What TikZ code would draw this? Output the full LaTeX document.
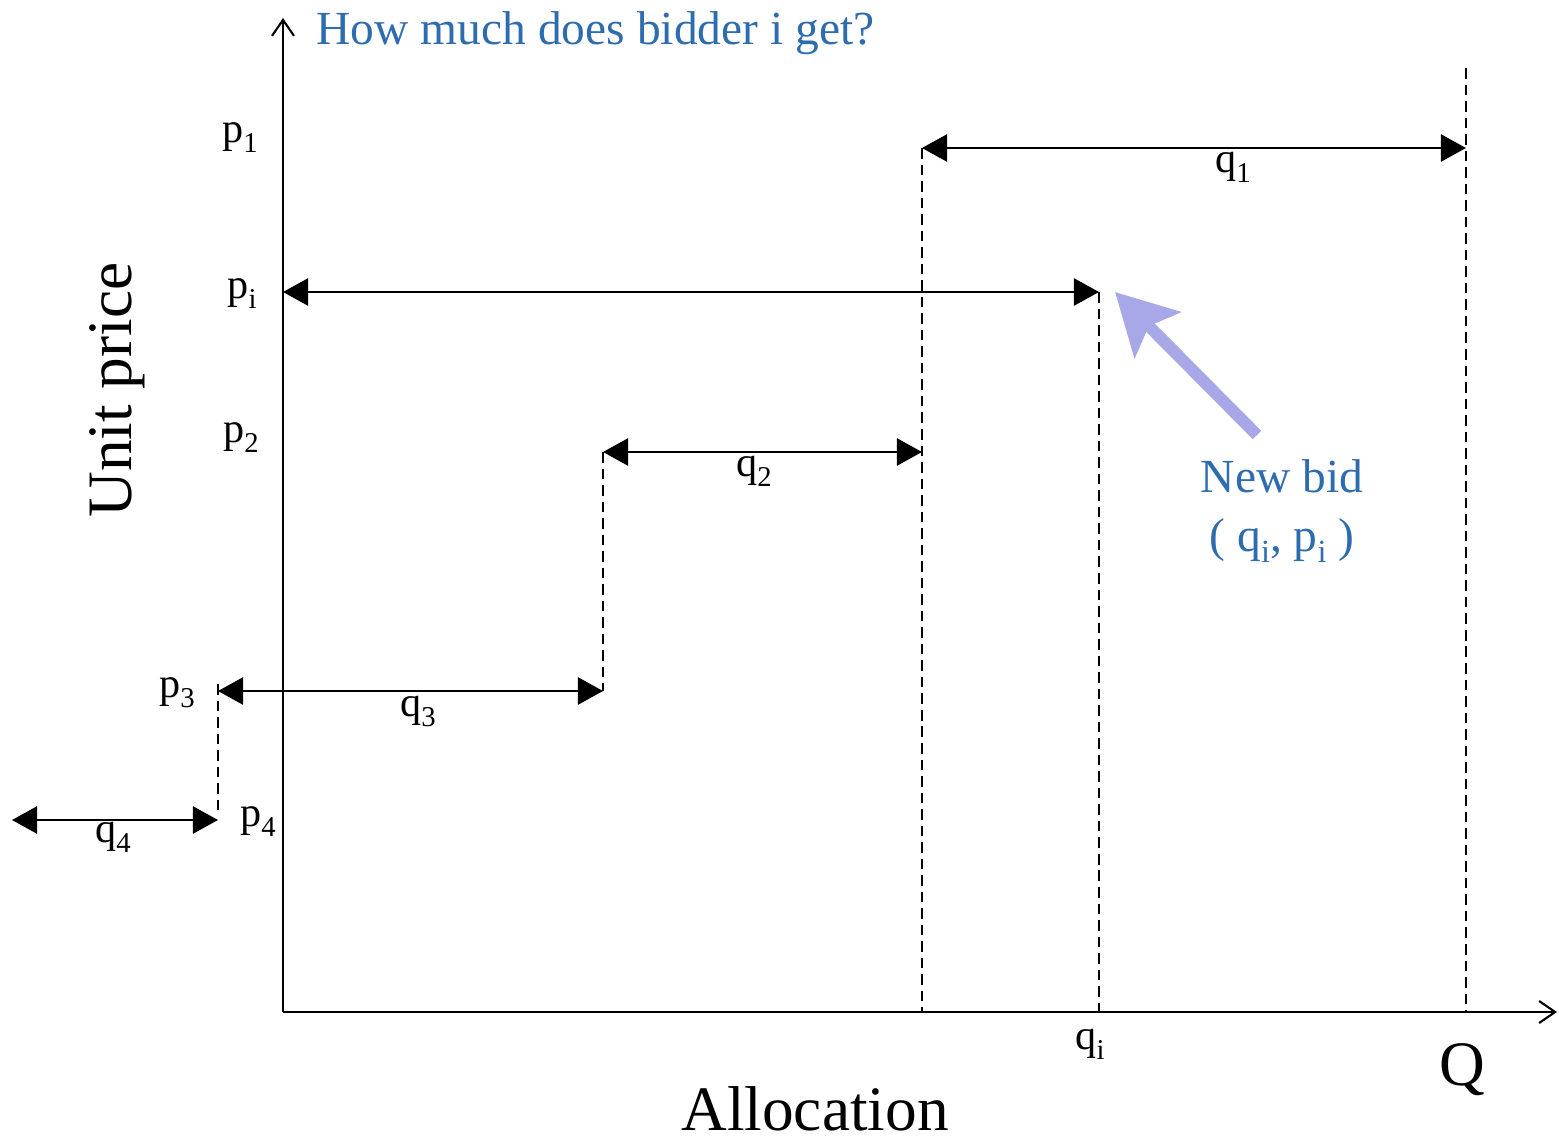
\documentclass[tikz,border=0pt]{standalone}
\usepackage{fontspec}
\setmainfont{Liberation Serif}
\usepackage{xcolor}
\usepackage{graphicx}
\usetikzlibrary{arrows.meta}
\definecolor{askblue}{RGB}{46,108,176}
\definecolor{bidlav}{RGB}{168,168,232}
\newcommand{\idx}[1]{\raisebox{-0.25em}{\scalebox{0.68}{#1}}}

\begin{document}
\begin{tikzpicture}[x=0.01cm,y=-0.01cm,
  axis/.style={line width=0.6pt,-{Straight Barb[length=1.6mm,width=2.2mm]}},
  qarrow/.style={line width=0.7pt,{Triangle[length=2.5mm,width=2.7mm]}-{Triangle[length=2.5mm,width=2.7mm]}},
  guide/.style={line width=0.5pt,dash pattern=on 3pt off 1.7pt},
  newbid/.style={line width=3.4pt,bidlav,-{Stealth[length=6mm,width=6.4mm,inset=1.2mm]}},
  lbl/.style={anchor=base,inner sep=0pt,font=\fontsize{12}{14}\selectfont},
  big/.style={anchor=base,inner sep=0pt,font=\fontsize{18}{21}\selectfont},
  note/.style={anchor=base,inner sep=0pt,text=askblue,font=\fontsize{13.5}{16}\selectfont}]
  \useasboundingbox (0,0) rectangle (1559,1139);
  % axes
  \coordinate (O) at (283,1012);
  \coordinate (ytop) at (283,18);
  \coordinate (xend) at (1557,1012);
  \draw[axis] (O) -- (ytop);
  \draw[axis] (O) -- (xend);
  \node[note,anchor=base west] (ask) at (316,44) {How much does bidder i get?};
  \node[big,rotate=90] (uprice) at (132,390) {Unit price};
  \node[big] (alloc) at (815,1130) {Allocation};
  % bid steps
  \coordinate (a1) at (922,148);  \coordinate (b1) at (1466,148);
  \coordinate (ai) at (283,292);  \coordinate (bi) at (1099,292);
  \coordinate (a2) at (603,452);  \coordinate (b2) at (922,452);
  \coordinate (a3) at (218,691);  \coordinate (b3) at (603,691);
  \coordinate (a4) at (12,820);   \coordinate (b4) at (218,820);
  \draw[qarrow] (a1) -- (b1);
  \draw[qarrow] (ai) -- (bi);
  \draw[qarrow] (a2) -- (b2);
  \draw[qarrow] (a3) -- (b3);
  \draw[qarrow] (a4) -- (b4);
  % dashed guides
  \coordinate (a1x) at (922,1012);
  \coordinate (qix) at (1099,1012);
  \coordinate (Qtop) at (1466,68);
  \coordinate (Qx) at (1466,1012);
  \coordinate (d3top) at (218,684);
  \coordinate (d3bot) at (218,811);
  \draw[guide] (a1) -- (a1x);
  \draw[guide] (bi) -- (qix);
  \draw[guide] (Qtop) -- (Qx);
  \draw[guide] (a2) -- (b3);
  \draw[guide] (d3top) -- (d3bot);
  % prices
  \node[lbl] (p1) at (240,142) {p\idx{1}};
  \node[lbl] (pi) at (242,298) {p\idx{i}};
  \node[lbl] (p2) at (241,442) {p\idx{2}};
  \node[lbl] (p3) at (177,697) {p\idx{3}};
  \node[lbl] (p4) at (258,826) {p\idx{4}};
  % quantities
  \node[lbl] (q1) at (1233,172) {q\idx{1}};
  \node[lbl] (q2) at (754,476) {q\idx{2}};
  \node[lbl] (q3) at (418,716) {q\idx{3}};
  \node[lbl] (q4) at (113,842) {q\idx{4}};
  \node[lbl] (qi) at (1090,1049) {q\idx{i}};
  \node[big] (Q) at (1462,1085) {Q};
  % new bid
  \node[note] (nb) at (1282,492) {New bid};
  \node[note] (nbpair) at (1282,551) {( q\idx{i}, p\idx{i} )};
  \coordinate (nbtail) at (1257,435);
  \coordinate (nbtip) at (1115,292);
  \draw[newbid] (nbtail) -- (nbtip);
\end{tikzpicture}
\end{document}
